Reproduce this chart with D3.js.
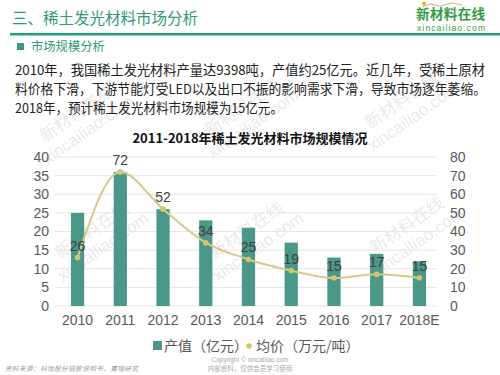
<!DOCTYPE html>
<html><head><meta charset="utf-8">
<script src="https://cdn.jsdelivr.net/npm/d3@7"></script>
<style>
body{margin:0;background:#fff;}
svg{display:block;font-family:"Noto Sans CJK SC","Noto Sans",sans-serif;}
</style></head>
<body>
<svg id="c" width="500" height="375"></svg>
<script>
const categories = ["2010","2011","2012","2013","2014","2015","2016","2017","2018E"];
const outputValue = [25,36,26,23,21,17,13,14,12];      // 产值（亿元）
const avgPrice = [26,72,52,34,25,19,15,17,15];         // 均价（万元/吨）
const leftTicks = [0,5,10,15,20,25,30,35,40];
const rightTicks = [0,10,20,30,40,50,60,70,80];
const bodyLines = [
  "2010年，我国稀土发光材料产量达9398吨，产值约25亿元。近几年，受稀土原材",
  "料价格下滑，下游节能灯受LED以及出口不振的影响需求下滑，导致市场逐年萎缩。",
  "2018年，预计稀土发光材料市场规模为15亿元。"
];
const bodyWidths = [470, 471, 268];

const svg = d3.select("#c");
const green = "#2e9a72";
const barColor = "#4a988a";
const lineColor = "#d6cb85";
const dotColor = "#d4c66a";
const numFont = "'Liberation Sans','Open Sans',sans-serif";

// watermarks (drawn first, faint)
const wm = [[80,118],[245,112],[405,105],[95,235],[250,235],[410,230]];
wm.forEach(([cx,cy])=>{
  const g = svg.append("g").attr("transform",`translate(${cx},${cy}) rotate(-35)`).attr("opacity",0.16);
  g.append("text").attr("text-anchor","middle").attr("font-size",17).attr("fill","#777").text("新材料在线");
  g.append("text").attr("y",20).attr("text-anchor","middle").attr("font-size",17).attr("fill","#777")
    .attr("font-family",numFont).text("xincailiao.com");
});

// header
svg.append("text").attr("x",12).attr("y",24).attr("font-size",15.5).attr("fill",green)
  .text("三、稀土发光材料市场分析");
svg.append("rect").attr("x",10).attr("y",33).attr("width",490).attr("height",2.5).attr("fill","#23a07c");
svg.append("rect").attr("x",17).attr("y",43).attr("width",7).attr("height",7).attr("fill","#3a9a8a");
svg.append("text").attr("x",31).attr("y",51).attr("font-size",12.3).attr("fill",green).text("市场规模分析");

// logo
const logo = svg.append("g");
logo.append("text").attr("x",416).attr("y",19).attr("font-size",13.5).attr("textLength",69)
  .attr("font-weight","bold").attr("fill","#2f9e3e").text("新材料在线");
logo.append("text").attr("x",417).attr("y",31).attr("font-size",8.5).attr("textLength",68)
  .attr("fill","#2f9e3e").attr("font-family",numFont).text("xincailiao.com");
logo.append("circle").attr("cx",424).attr("cy",3.5).attr("r",2).attr("fill","#e0b030");
logo.append("path").attr("d","M422,7 L430,4 L440,6 L452,3 L462,5").attr("fill","none").attr("stroke","#c8b870").attr("stroke-width",1);

// body text
bodyLines.forEach((t,i)=>{
  svg.append("text").attr("x",15).attr("y",75+i*19.2).attr("font-size",13.2)
    .attr("textLength",bodyWidths[i]).attr("lengthAdjust","spacingAndGlyphs")
    .attr("fill","#222").text(t);
});

// chart title
svg.append("text").attr("x",250).attr("y",143).attr("text-anchor","middle").attr("font-size",13)
  .attr("font-weight","bold").attr("fill","#111").text("2011-2018年稀土发光材料市场规模情况");

const x = d3.scaleBand().domain(categories).range([56,441]).paddingInner(0.69).paddingOuter(0.35);
const yL = d3.scaleLinear().domain([0,40]).range([306,157]);
const yR = d3.scaleLinear().domain([0,80]).range([306,157]);

// gridlines
svg.append("g").selectAll("line").data(leftTicks).join("line")
  .attr("x1",55).attr("x2",437).attr("y1",d=>yL(d)).attr("y2",d=>yL(d))
  .attr("stroke","#e6e6e6").attr("stroke-width",1);

// left axis
const axL = svg.append("g").attr("transform","translate(55,0)")
  .call(d3.axisLeft(yL).tickValues(leftTicks).tickSize(0).tickPadding(6));
axL.select(".domain").remove();
axL.selectAll("text").attr("font-size",14).attr("fill","#595959").attr("font-family",numFont);

// right axis
const axR = svg.append("g").attr("transform","translate(444,0)")
  .call(d3.axisRight(yR).tickValues(rightTicks).tickSize(0).tickPadding(6));
axR.select(".domain").remove();
axR.selectAll("text").attr("font-size",14).attr("fill","#595959").attr("font-family",numFont);

// x axis
const axX = svg.append("g").attr("transform","translate(0,306)")
  .call(d3.axisBottom(x).tickSize(0).tickPadding(9));
axX.select(".domain").remove();
axX.selectAll("text").attr("font-size",14).attr("fill","#595959").attr("font-family",numFont);

// bars
svg.append("g").selectAll("rect").data(categories).join("rect")
  .attr("x",d=>x(d)).attr("width",x.bandwidth())
  .attr("y",(d,i)=>yL(outputValue[i])).attr("height",(d,i)=>yL(0)-yL(outputValue[i]))
  .attr("fill",barColor);

// line
const pts = categories.map((c,i)=>[x(c)+x.bandwidth()/2, yR(avgPrice[i])]);
svg.append("path").attr("d",d3.line().curve(d3.curveMonotoneX)(pts))
  .attr("fill","none").attr("stroke",lineColor).attr("stroke-width",2);
svg.append("g").selectAll("circle").data(pts).join("circle")
  .attr("cx",d=>d[0]).attr("cy",d=>d[1]).attr("r",2.8).attr("fill",dotColor);
svg.append("g").selectAll("text").data(pts).join("text")
  .attr("x",d=>d[0]).attr("y",d=>d[1]-7).attr("text-anchor","middle")
  .attr("font-size",14).attr("fill","#404040").attr("font-family",numFont)
  .text((d,i)=>avgPrice[i]);

// legend
const lg = svg.append("g");
lg.append("rect").attr("x",153).attr("y",341).attr("width",9).attr("height",9).attr("fill",barColor);
lg.append("text").attr("x",164).attr("y",351).attr("font-size",14).attr("fill","#595959").text("产值（亿元）");
lg.append("circle").attr("cx",249).attr("cy",346).attr("r",2.8).attr("fill",dotColor);
lg.append("text").attr("x",256).attr("y",351).attr("font-size",14).attr("fill","#595959").text("均价（万元/吨）");

// footer
svg.append("text").attr("x",5).attr("y",371).attr("font-size",6.5).attr("font-style","italic")
  .attr("textLength",133).attr("fill","#999").text("资料来源：科恒股份招股说明书、赛瑞研究");
svg.append("text").attr("x",250).attr("y",362).attr("text-anchor","middle").attr("font-size",6.5)
  .attr("fill","#aaa").attr("font-family",numFont).text("Copyright © xincailiao.com");
svg.append("text").attr("x",250).attr("y",371).attr("text-anchor","middle").attr("font-size",6.5)
  .attr("fill","#aaa").text("内部资料，仅供会员学习使用");
</script>
</body></html>
